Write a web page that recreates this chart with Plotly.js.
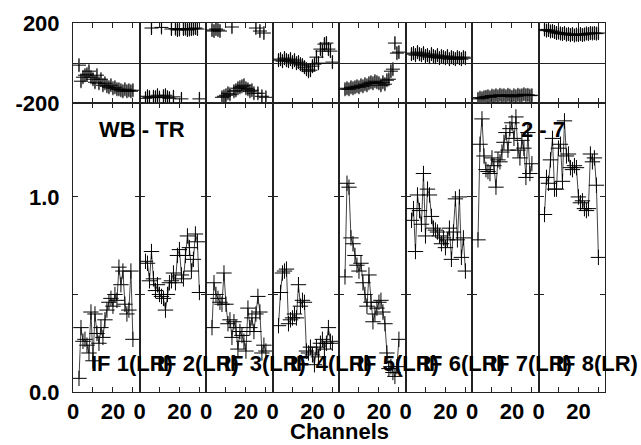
<!DOCTYPE html>
<html>
<head>
<meta charset="utf-8">
<script src="https://cdn.plot.ly/plotly-3.0.1.min.js"></script>
<style>html,body{margin:0;padding:0;background:#fff;}#chart{width:641px;height:445px;}</style>
</head>
<body>
<div id="chart"></div>
<script>
// ---- data ----
const channels = [3,4,5,6,7,8,9,10,11,12,13,14,15,16,17,18,19,20,21,22,23,24,25,26,27,28,29,30];
const ifLabels = ["IF 1(LR)","IF 2(LR)","IF 3(LR)","IF 4(LR)","IF 5(LR)","IF 6(LR)","IF 7(LR)","IF 8(LR)"];

const amp1 = [0.07,0.33,0.26,0.27,0.24,0.20,0.41,0.16,0.40,0.30,0.25,0.33,0.28,0.37,0.42,0.46,0.48,0.44,0.50,0.47,0.64,0.55,0.62,0.45,0.40,0.42,0.62,0.27];
const amp2 = [0.67,0.66,0.57,0.72,0.58,0.52,0.55,0.50,0.49,0.48,0.42,0.50,0.56,0.57,0.61,0.56,0.70,0.73,0.60,0.58,0.70,0.80,0.74,0.62,0.68,0.81,0.77,0.51];
const amp3 = [0.33,0.56,0.50,0.48,0.46,0.45,0.61,0.45,0.35,0.37,0.28,0.36,0.33,0.22,0.31,0.29,0.26,0.21,0.43,0.33,0.38,0.31,0.40,0.49,0.41,0.20,0.24,0.21];
const amp4 = [0.34,0.51,0.61,0.62,0.63,0.35,0.37,0.38,0.40,0.38,0.55,0.44,0.47,0.46,0.21,0.20,0.23,0.19,0.14,0.23,0.18,0.25,0.27,0.22,0.25,0.33,0.26,0.25];
const amp5 = [0.59,1.07,1.05,0.79,0.76,0.70,0.65,0.62,0.66,0.56,0.50,0.44,0.60,0.46,0.36,0.40,0.43,0.46,0.47,0.41,0.35,0.20,0.12,0.13,0.10,0.08,0.13,0.27];
const amp6 = [0.88,0.94,0.72,1.01,0.93,0.86,1.12,0.80,1.04,1.01,0.90,0.84,0.83,0.82,0.80,0.76,0.79,0.74,0.78,0.84,0.68,0.82,0.99,0.78,1.00,0.69,0.79,0.62];
const amp7 = [0.78,1.27,1.40,1.21,1.14,1.13,1.12,1.20,1.16,1.05,1.19,1.18,1.23,1.28,1.33,1.24,1.35,1.38,1.30,1.41,1.24,1.20,1.29,1.25,1.10,1.33,1.12,1.17];
const amp8 = [0.91,1.10,1.07,1.19,1.30,1.04,1.04,1.25,1.27,1.08,1.39,1.21,1.22,1.15,1.14,1.16,1.15,1.00,0.97,0.98,0.94,0.93,0.94,1.22,1.18,1.20,1.06,0.69];

const phase1 = [-10,-90,-70,-60,-55,-40,-70,-80,-95,-60,-100,-80,-110,-100,-115,-120,-110,-125,-120,-130,-130,-135,-140,-130,-140,-135,-140,-135];
const phase2 = [-175,-165,-170,175,-168,-170,-160,-172,178,-165,-160,-170,-175,170,-168,172,165,168,-178,170,172,165,168,170,172,175,170,-178];
const phase3 = [165,160,170,165,160,-170,-165,-160,-150,-155,180,-140,-135,-125,-120,-115,-110,-125,-130,-140,-135,-150,175,-150,160,-165,150,-170];
const phase4 = [15,20,10,25,15,10,20,5,15,0,5,-5,-10,-20,-30,-40,-35,-15,-5,30,0,70,60,95,100,70,60,5];
const phase5 = [-130,-125,-130,-120,-125,-120,-115,-120,-110,-115,-105,-110,-100,-95,-100,-90,-95,-100,-110,-95,-105,-85,-80,-40,-30,100,50,55];
const phase6 = [45,50,40,55,45,40,50,35,40,30,45,35,30,40,25,35,30,25,35,20,30,25,20,30,25,20,30,25];
const phase7 = [-178,-172,-175,-170,-168,-165,-170,-162,-165,-160,-165,-158,-162,-160,-165,-158,-162,-168,-160,-165,-158,-162,-160,-155,-160,-158,-162,-160];
const phase8 = [168,162,165,158,160,155,150,152,148,145,150,142,145,140,145,138,142,140,145,140,143,148,145,150,148,150,147,150];

const amps = [amp1,amp2,amp3,amp4,amp5,amp6,amp7,amp8];
const phases = [phase1,phase2,phase3,phase4,phase5,phase6,phase7,phase8];

const xTickVals = [0,10,20,30];
const xTickText = ["0","","20",""];
const ampTickVals = [0,0.5,1.0,1.5];
const ampTickText = ["0.0","","1.0",""];
const phaseTickVals = [-200,0,200];
const phaseTickText = ["-200","","200"];

// ---- styling ----
const N = 8;
const split = 0.7824;
const frameColor = "#222";
const tickFont = {family: "Liberation Sans, Arial, sans-serif", size: 22, color: "#000", weight: "bold"};

const traces = [];
const layout = {
  width: 641, height: 445,
  margin: {l: 73, r: 36, t: 23, b: 53},
  paper_bgcolor: "#fff", plot_bgcolor: "#fff",
  showlegend: false,
  font: tickFont,
  annotations: []
};

for (let i = 0; i < N; i++) {
  const ax = 2*i + 1, px = 2*i + 2;
  const dom = [i/N, (i+1)/N];
  const xa = "xaxis" + (ax === 1 ? "" : ax), xp = "xaxis" + px;
  const ya = "yaxis" + (ax === 1 ? "" : ax), yp = "yaxis" + px;
  const xr = "x" + (ax === 1 ? "" : ax), yr = "y" + (ax === 1 ? "" : ax);

  const common = {showline: true, linecolor: frameColor, linewidth: 1, mirror: "ticks",
                  ticks: "inside", ticklen: 5, tickwidth: 1, tickcolor: frameColor,
                  showgrid: false, zeroline: false, fixedrange: true, tickfont: tickFont};

  layout[xa] = Object.assign({}, common, {domain: dom, anchor: yr, range: [0, 33.3],
    tickmode: "array", tickvals: xTickVals, ticktext: xTickText, ticklabelstandoff: 0});
  layout[xp] = Object.assign({}, common, {domain: dom, anchor: "y" + px, range: [0, 33.3],
    tickmode: "array", tickvals: xTickVals, showticklabels: false});
  layout[ya] = Object.assign({}, common, {domain: [0, split], anchor: xr, range: [0, 1.48],
    tickmode: "array", tickvals: ampTickVals, ticktext: ampTickText,
    showticklabels: i === 0, ticklabelstandoff: 8});
  layout[yp] = Object.assign({}, common, {domain: [split, 1], anchor: "x" + px, range: [-200, 200],
    tickmode: "array", tickvals: phaseTickVals, ticktext: phaseTickText, ticklen: 0,
    showticklabels: i === 0, ticklabelstandoff: 8,
    zeroline: true, zerolinecolor: frameColor, zerolinewidth: 1});

  traces.push({
    x: channels, y: amps[i], xaxis: xr, yaxis: yr, type: "scatter", mode: "lines+markers",
    line: {color: "#444", width: 1},
    marker: {symbol: "cross-thin-open", size: 11, color: "#000", line: {color: "#000", width: 1}},
    hoverinfo: "skip", cliponaxis: true
  });
  traces.push({
    x: channels, y: phases[i], xaxis: "x" + px, yaxis: "y" + px, type: "scatter", mode: "markers",
    marker: {symbol: "cross-thin-open", size: 10, color: "#000", line: {color: "#000", width: 1}},
    error_y: {type: "constant", value: 30, color: "#888", thickness: 1.5, width: 0},
    hoverinfo: "skip", cliponaxis: true
  });

  layout.annotations.push({
    text: ifLabels[i], xref: xr, yref: yr, x: 8.0, y: 0.147,
    xanchor: "left", yanchor: "middle", showarrow: false,
    font: tickFont
  });
}

layout.annotations.push({text: "WB - TR", xref: "paper", yref: "y", x: 0.1306, y: 1.344,
  xanchor: "center", yanchor: "middle", showarrow: false, font: tickFont});
layout.annotations.push({text: "2 - 7", xref: "paper", yref: "y", x: 0.884, y: 1.344,
  xanchor: "center", yanchor: "middle", showarrow: false, font: tickFont});
layout.annotations.push({text: "Channels", xref: "paper", yref: "paper", x: 0.5, y: -0.108,
  xanchor: "center", yanchor: "middle", showarrow: false, font: tickFont});

Plotly.newPlot("chart", traces, layout, {staticPlot: true, displayModeBar: false});
</script>
</body>
</html>
